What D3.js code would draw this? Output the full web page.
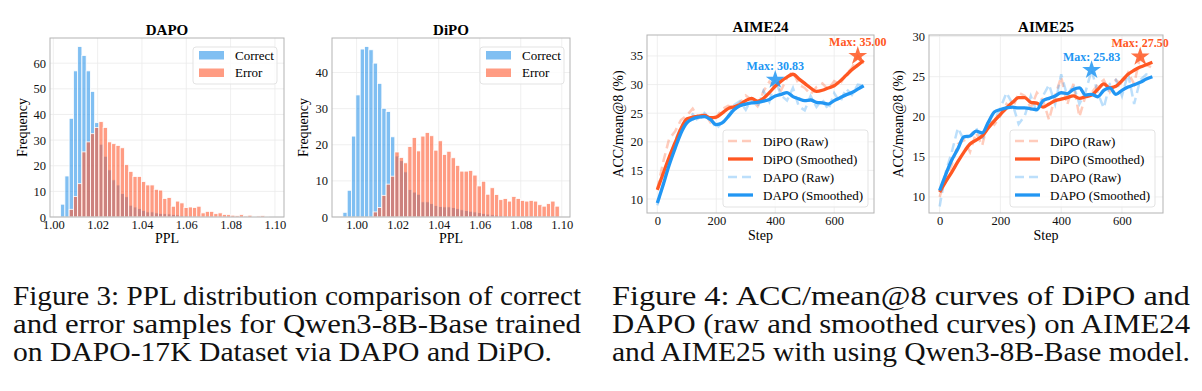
<!DOCTYPE html>
<html>
<head>
<meta charset="utf-8">
<script src="https://cdn.jsdelivr.net/npm/d3@7"></script>
<style>
  body { margin: 0; background: #fff; }
  svg { display: block; font-family: "Liberation Serif", "Times New Roman", serif; }
</style>
</head>
<body>
<svg id="fig" width="1202" height="391"></svg>
<script>
// ---- histogram data (frequency per PPL bin) ----
const pplTicks = [1.00, 1.02, 1.04, 1.06, 1.08, 1.10];
const histLabels = ['Correct', 'Error'];

const dapoBinStart = 1.0033, dapoBinWidth = 0.00192;
const dapoCorrect = [5, 16, 38.5, 57, 66.5, 63, 57, 49, 36.8, 28.4, 23.7, 18.4, 14.5, 12.5, 9.2, 7.9, 4.6, 3.9, 3.3, 2.6,
  2, 2, 1.6, 1.4, 1.3, 1.2, 1, 0.8, 0.6, 0.5, 0.4, 0.3, 0.3, 0.2];
const dapoError = [0, 0, 3, 8, 13, 25.4, 29.3, 32.5, 34.9, 37.2, 34.9, 29.3, 28.6, 27.9, 27, 20.4, 17.8, 15.8, 15.8, 13.8,
  12.5, 12.5, 10.8, 10.5, 7.2, 7.6, 4.2, 6.2, 5.5, 3.7, 3.9, 3.7, 4.2, 1.6, 2.2, 2.2, 1.3, 1.6, 1.0, 0.9,
  0.7, 0.5, 0.9, 0.4, 0.7, 0.3, 0.4, 0.5, 0.3, 0];

const dipoBinStart = 0.9933, dipoBinWidth = 0.00211;
const dipoCorrect = [1.3, 7.4, 22.4, 33.8, 46.5, 47.2, 46.3, 42.6, 37, 30.1, 29.2, 22.2, 16.9, 15.6, 12.5, 7.6, 6.9, 6.3, 4.2, 4.2,
  3.7, 3.2, 2.9, 2.8, 2.8, 2.6, 2.3, 2, 1.8, 1.6, 1.4, 1.2, 1, 0.8, 0.6, 0.5, 0.4, 0.3];
const dipoError = [0, 0, 0, 0, 0, 0, 0, 1.4, 2.6, 6, 9.1, 11.3, 18, 16.5, 15, 19.5, 22, 18.3, 22.4, 23.4,
  22.5, 18.5, 21.1, 17.3, 18.2, 16.4, 14.3, 12.7, 12.7, 12.9, 11.6, 8.6, 9.9, 6.3, 8.1, 6.2, 4.8, 5.1, 4.4, 5.7,
  5.1, 4.6, 4.4, 4.6, 4.4, 3.4, 3, 3.7, 4.4, 3];

// ---- ACC/mean@8 curves ----
const steps = [0, 20, 40, 60, 80, 100, 120, 140, 160, 180, 200, 220, 240, 260, 280, 300, 320, 340,
  360, 380, 400, 420, 440, 460, 480, 500, 520, 540, 560, 580, 600, 620, 640, 660, 680, 700];
const stepTicks = [0, 200, 400, 600];
const lineLabels = ['DiPO (Raw)', 'DiPO (Smoothed)', 'DAPO (Raw)', 'DAPO (Smoothed)'];

const a24DipoRaw = [11.7, 16.5, 20.5, 21.8, 23.8, 24.6, 25.8, 24.2, 25.1, 23.4, 24.3, 25.7, 26.3, 26.0, 26.8, 28.1, 27.3, 26.2,
  28.8, 30.5, 29.6, 29.0, 31.2, 32.3, 30.0, 29.4, 28.3, 29.6, 30.2, 29.1, 30.6, 30.1, 31.8, 32.9, 35.0, 34.0];
const a24DipoSmooth = [11.6, 14.5, 17.3, 19.8, 22.3, 24.0, 24.3, 24.5, 24.6, 24.2, 24.3, 25.0, 25.8, 26.1, 26.5, 27.2, 27.6, 27.1,
  27.6, 28.6, 29.7, 30.6, 31.3, 31.8, 31.0, 30.2, 29.4, 28.8, 29.0, 29.4, 29.8, 30.6, 31.6, 32.6, 33.4, 34.2];
const a24DapoRaw = [8.9, 12.8, 17.0, 20.2, 22.6, 24.0, 24.8, 23.6, 25.0, 24.1, 22.3, 23.4, 24.2, 26.4, 27.1, 25.6, 27.5, 26.0,
  28.9, 27.0, 30.83, 28.1, 27.2, 29.4, 26.2, 25.5, 28.0, 26.1, 27.4, 25.6, 28.5, 26.9, 29.3, 28.2, 30.0, 29.8];
const a24DapoSmooth = [9.3, 12.5, 15.9, 18.8, 21.5, 23.3, 24.0, 24.3, 24.4, 23.9, 23.0, 23.3, 24.4, 25.6, 26.3, 26.6, 26.8, 26.9,
  27.1, 27.4, 28.0, 28.3, 28.6, 27.9, 27.5, 27.2, 27.3, 26.9, 26.8, 26.6, 27.2, 27.7, 28.2, 28.6, 29.2, 29.8];

const a25DipoRaw = [10.0, 12.3, 14.0, 16.6, 17.1, 15.6, 18.0, 16.4, 19.6, 19.0, 20.1, 21.6, 21.0, 23.0, 22.6, 21.1, 23.0, 22.1,
  19.6, 22.6, 25.0, 21.5, 24.1, 20.0, 22.6, 23.0, 24.0, 24.6, 23.1, 24.6, 24.0, 25.5, 24.1, 27.5, 26.5, 26.1];
const a25DipoSmooth = [10.6, 11.9, 13.1, 14.4, 15.6, 16.6, 17.1, 17.6, 18.6, 19.5, 20.3, 21.1, 21.8, 22.4, 22.4, 21.8, 21.7, 21.2,
  21.6, 22.0, 22.2, 22.4, 22.6, 22.3, 22.5, 22.7, 23.4, 24.1, 23.6, 23.8, 24.5, 25.3, 25.8, 26.2, 26.5, 26.8];
const a25DapoRaw = [8.8, 13.1, 15.6, 18.6, 17.1, 17.6, 18.6, 17.1, 19.1, 19.6, 21.1, 23.0, 21.6, 19.1, 20.1, 22.6, 20.6, 22.6,
  24.0, 21.6, 25.3, 22.6, 24.0, 21.6, 23.1, 25.83, 23.0, 21.1, 24.1, 24.6, 22.6, 25.4, 21.6, 24.6, 25.3, 25.1];
const a25DapoSmooth = [10.8, 12.8, 14.6, 16.0, 17.5, 17.6, 18.2, 18.0, 19.3, 20.6, 20.9, 21.1, 21.2, 21.1, 21.1, 21.0, 20.9, 22.0,
  22.3, 22.6, 23.0, 22.9, 23.4, 23.6, 22.7, 22.8, 22.5, 23.3, 23.6, 22.8, 23.3, 23.7, 24.0, 24.3, 24.7, 25.0];

const caption3 = ['Figure 3: PPL distribution comparison of correct',
  'and error samples for Qwen3-8B-Base trained',
  'on DAPO-17K Dataset via DAPO and DiPO.'];
const caption4 = ['Figure 4:  ACC/mean@8 curves of DiPO and',
  'DAPO (raw and smoothed curves) on AIME24',
  'and AIME25 with using Qwen3-8B-Base model.'];

const BLUE_BAR = '#2b95e9', RED_BAR = '#ff5a30';
const ORANGE = '#ff5722', BLUE = '#2196f3';
const GRID = '#ebebeb', SPINE = '#b3b3b3';

const svg = d3.select('#fig');
svg.append('rect').attr('width', 1202).attr('height', 391).attr('fill', '#fff');

function frameAndGrid(g, box, x, y, xt, yt) {
  g.selectAll('line.vg').data(xt).enter().append('line')
    .attr('x1', d => x(d)).attr('x2', d => x(d))
    .attr('y1', box.top).attr('y2', box.bottom)
    .attr('stroke', GRID).attr('stroke-width', 0.8);
  g.selectAll('line.hg').data(yt).enter().append('line')
    .attr('x1', box.left).attr('x2', box.right)
    .attr('y1', d => y(d)).attr('y2', d => y(d))
    .attr('stroke', GRID).attr('stroke-width', 0.8);
}

function axes(g, box, x, y, xt, yt, fmtX) {
  const ax = g.append('g').attr('transform', `translate(0,${box.bottom})`)
    .call(d3.axisBottom(x).tickValues(xt).tickFormat(fmtX).tickSize(0).tickPadding(3));
  ax.select('.domain').remove();
  ax.selectAll('text').attr('font-size', 12.5).attr('font-family', 'Liberation Serif').attr('fill', '#111');
  const ay = g.append('g').attr('transform', `translate(${box.left},0)`)
    .call(d3.axisLeft(y).tickValues(yt).tickFormat(d3.format('d')).tickSize(0).tickPadding(4));
  ay.select('.domain').remove();
  ay.selectAll('text').attr('font-size', 12.5).attr('font-family', 'Liberation Serif').attr('fill', '#111');
  g.append('rect').attr('x', box.left).attr('y', box.top)
    .attr('width', box.right - box.left).attr('height', box.bottom - box.top)
    .attr('fill', 'none').attr('stroke', SPINE).attr('stroke-width', 1);
}

function drawHist(cfg) {
  const box = cfg.box;
  const g = svg.append('g');
  const x = d3.scaleLinear().domain(cfg.xDomain).range([box.left, box.right]);
  const yMax = d3.max(cfg.correct.concat(cfg.error)) * 1.05;
  const y = d3.scaleLinear().domain([0, yMax]).range([box.bottom, box.top]);
  const yt = d3.range(0, yMax, 10);
  frameAndGrid(g, box, x, y, pplTicks, yt);

  [[cfg.correct, BLUE_BAR], [cfg.error, RED_BAR]].forEach(([vals, col]) => {
    g.append('g').selectAll('rect').data(vals).enter().append('rect')
      .attr('x', (d, i) => x(cfg.binStart + i * cfg.binWidth))
      .attr('width', (d, i) => x(cfg.binStart + (i + 1) * cfg.binWidth) - x(cfg.binStart + i * cfg.binWidth))
      .attr('y', d => y(d))
      .attr('height', d => y(0) - y(d))
      .attr('fill', col).attr('fill-opacity', 0.6)
      .attr('stroke', '#fff').attr('stroke-width', 0.8);
  });

  axes(g, box, x, y, pplTicks, yt, d3.format('.2f'));

  g.append('text').attr('x', (box.left + box.right) / 2).attr('y', box.top - 3.5)
    .attr('text-anchor', 'middle').attr('font-weight', 'bold').attr('font-size', 15).text(cfg.title);
  g.append('text').attr('x', (box.left + box.right) / 2).attr('y', box.bottom + 25.5)
    .attr('text-anchor', 'middle').attr('font-size', 14).text('PPL');
  g.append('text').attr('transform', `translate(${cfg.ylabelX},${(box.top + box.bottom) / 2}) rotate(-90)`)
    .attr('text-anchor', 'middle').attr('font-size', 14).text('Frequency');

  // legend
  const lg = g.append('g').attr('transform', `translate(${cfg.legendX},47)`);
  lg.append('rect').attr('width', 84).attr('height', 37).attr('rx', 3)
    .attr('fill', '#fff').attr('fill-opacity', 0.8).attr('stroke', '#e3e3e3');
  [BLUE_BAR, RED_BAR].forEach((col, i) => {
    lg.append('rect').attr('x', 6).attr('y', 4 + i * 17.5).attr('width', 25).attr('height', 8.5)
      .attr('fill', col).attr('fill-opacity', 0.6);
    lg.append('text').attr('x', 42).attr('y', 12.5 + i * 17.5).attr('font-size', 13).text(histLabels[i]);
  });
}

function drawCurves(cfg) {
  const box = cfg.box;
  const g = svg.append('g');
  const x = d3.scaleLinear().domain([-35, 735]).range([box.left, box.right]);
  const y = d3.scaleLinear().domain(cfg.yDomain).range([box.bottom, box.top]);
  frameAndGrid(g, box, x, y, stepTicks, cfg.yTicks);

  const raw = d3.line().x((d, i) => x(steps[i])).y(d => y(d));
  const smooth = d3.line().x((d, i) => x(steps[i])).y(d => y(d)).curve(d3.curveMonotoneX);
  const series = [
    {vals: cfg.dipoRaw, col: ORANGE, raw: true},
    {vals: cfg.dipoSmooth, col: ORANGE, raw: false},
    {vals: cfg.dapoRaw, col: BLUE, raw: true},
    {vals: cfg.dapoSmooth, col: BLUE, raw: false}
  ];
  // raw first, smoothed on top
  series.filter(s => s.raw).forEach(s => {
    g.append('path').attr('d', raw(s.vals)).attr('fill', 'none')
      .attr('stroke', s.col).attr('stroke-opacity', 0.3).attr('stroke-width', 2.5)
      .attr('stroke-dasharray', '9,5');
  });
  series.filter(s => !s.raw).forEach(s => {
    g.append('path').attr('d', smooth(s.vals)).attr('fill', 'none')
      .attr('stroke', s.col).attr('stroke-width', 3.3).attr('stroke-linejoin', 'round');
  });

  // max markers
  [[cfg.dipoRaw, ORANGE], [cfg.dapoRaw, BLUE]].forEach(([vals, col]) => {
    const i = d3.maxIndex(vals);
    const px = x(steps[i]), py = y(vals[i]);
    g.append('path').attr('d', d3.symbol().type(d3.symbolStar).size(110)())
      .attr('transform', `translate(${px},${py})`).attr('fill', col).attr('fill-opacity', 0.85);
    g.append('text').attr('x', px).attr('y', py - 9.5).attr('text-anchor', 'middle')
      .attr('font-size', 12).attr('font-weight', 'bold').attr('fill', col)
      .text('Max: ' + vals[i].toFixed(2));
  });

  axes(g, box, x, y, stepTicks, cfg.yTicks, d3.format('d'));

  g.append('text').attr('x', (box.left + box.right) / 2).attr('y', box.top - 3)
    .attr('text-anchor', 'middle').attr('font-weight', 'bold').attr('font-size', 15).text(cfg.title);
  g.append('text').attr('x', (box.left + box.right) / 2).attr('y', box.bottom + 27)
    .attr('text-anchor', 'middle').attr('font-size', 14).text('Step');
  g.append('text').attr('transform', `translate(${cfg.ylabelX},${(box.top + box.bottom) / 2}) rotate(-90)`)
    .attr('text-anchor', 'middle').attr('font-size', 14).text('ACC/mean@8 (%)');

  const lg = g.append('g').attr('transform', `translate(${cfg.legendX},130)`);
  lg.append('rect').attr('width', 145).attr('height', 77).attr('rx', 3)
    .attr('fill', '#fff').attr('fill-opacity', 0.8).attr('stroke', '#e3e3e3');
  series.forEach((s, i) => {
    const ly = 11 + i * 18;
    lg.append('line').attr('x1', 5).attr('x2', 30).attr('y1', ly).attr('y2', ly)
      .attr('stroke', s.col).attr('stroke-opacity', s.raw ? 0.3 : 1)
      .attr('stroke-width', s.raw ? 2.5 : 3.3)
      .attr('stroke-dasharray', s.raw ? '9,5' : null);
    lg.append('text').attr('x', 40).attr('y', ly + 4.5).attr('font-size', 13).text(lineLabels[i]);
  });
}

drawHist({title: 'DAPO', box: {left: 50, right: 284, top: 38, bottom: 217},
  xDomain: [0.9985, 1.1041], binStart: dapoBinStart, binWidth: dapoBinWidth,
  correct: dapoCorrect, error: dapoError, legendX: 193, ylabelX: 27});
drawHist({title: 'DiPO', box: {left: 332, right: 570, top: 38, bottom: 217},
  xDomain: [0.988, 1.104], binStart: dipoBinStart, binWidth: dipoBinWidth,
  correct: dipoCorrect, error: dipoError, legendX: 480, ylabelX: 308});

drawCurves({title: 'AIME24', box: {left: 647, right: 874, top: 35, bottom: 213},
  yDomain: [7.56, 38.66], yTicks: [10, 15, 20, 25, 30, 35],
  dipoRaw: a24DipoRaw, dipoSmooth: a24DipoSmooth, dapoRaw: a24DapoRaw, dapoSmooth: a24DapoSmooth,
  legendX: 723, ylabelX: 623});
drawCurves({title: 'AIME25', box: {left: 929, right: 1163, top: 35, bottom: 213},
  yDomain: [8.0, 30.2], yTicks: [10, 15, 20, 25, 30],
  dipoRaw: a25DipoRaw, dipoSmooth: a25DipoSmooth, dapoRaw: a25DapoRaw, dapoSmooth: a25DapoSmooth,
  legendX: 1010, ylabelX: 903});

// captions: the paper's text is justified and a little wider than the font's natural width
function caption(lines, x0, widths) {
  lines.forEach((t, i) => {
    svg.append('text').attr('x', x0).attr('y', 305 + i * 28)
      .attr('font-size', 26.5).attr('fill', '#111')
      .attr('textLength', widths[i]).attr('lengthAdjust', 'spacingAndGlyphs')
      .text(t);
  });
}
caption(caption3, 13, [568, 568, 539]);
caption(caption4, 612, [578, 578, 578]);
</script>
</body>
</html>
